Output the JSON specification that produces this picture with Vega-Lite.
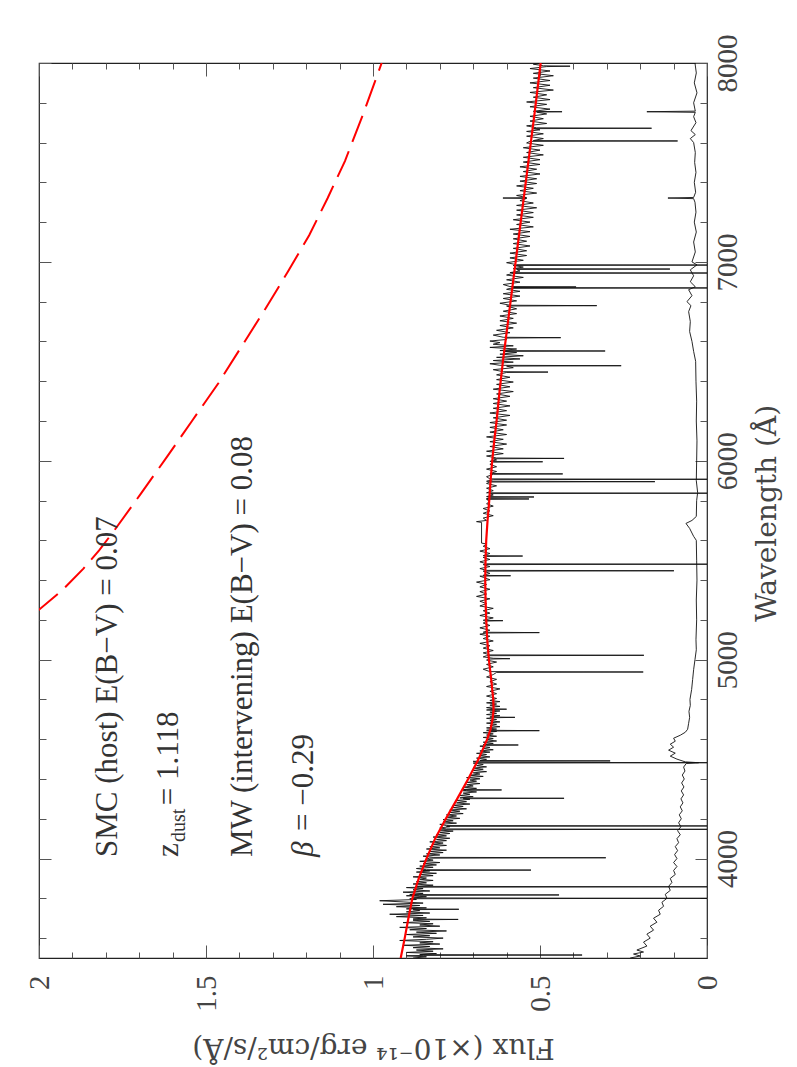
{
"$schema": "https://vega.github.io/schema/vega-lite/v6.json",
"width": 668, "height": 895,
"autosize": "none",
"padding": {"left": 39, "top": 63, "right": 90, "bottom": 109},
"background": "white",
"config": {"view": {"stroke": "#222", "strokeWidth": 1.2}, "axis": {"domain": false, "grid": false, "labelFont": "Liberation Serif", "titleFont": "DejaVu Serif", "tickColor": "#555", "labelColor": "#444", "titleColor": "#444", "titleFontWeight": "normal", "tickWidth": 1}},
"resolve": {"axis": {"x": "independent", "y": "independent"}},
"datasets": {
"spec": [
{"w":3500,"f":0.88},{"w":3506,"f":0.84},{"w":3511,"f":0.9},{"w":3513,"f":0.85},{"w":3515,"f":0.374},{"w":3517,"f":0.86},{"w":3522,"f":0.81},{"w":3528,"f":0.9},{"w":3534,"f":0.82},{"w":3540,"f":0.87},{"w":3546,"f":0.79},{"w":3552,"f":0.88},{"w":3558,"f":0.83},{"w":3564,"f":0.91},{"w":3570,"f":0.8},{"w":3576,"f":0.86},{"w":3582,"f":0.82},{"w":3588,"f":0.92},{"w":3594,"f":0.84},{"w":3600,"f":0.79},{"w":3606,"f":0.88},{"w":3612,"f":0.83},{"w":3618,"f":0.9},{"w":3624,"f":0.81},{"w":3630,"f":0.87},{"w":3636,"f":0.78},{"w":3642,"f":0.89},{"w":3648,"f":0.84},{"w":3654,"f":0.92},{"w":3660,"f":0.8},{"w":3666,"f":0.86},{"w":3672,"f":0.82},{"w":3678,"f":0.91},{"w":3684,"f":0.83},{"w":3690,"f":0.88},{"w":3692,"f":0.87},{"w":3694,"f":0.745},{"w":3696,"f":0.88},{"w":3702,"f":0.84},{"w":3708,"f":0.93},{"w":3714,"f":0.85},{"w":3720,"f":0.95},{"w":3726,"f":0.83},{"w":3732,"f":0.9},{"w":3738,"f":0.86},{"w":3743,"f":0.88},{"w":3745,"f":0.743},{"w":3747,"f":0.9},{"w":3752,"f":0.84},{"w":3758,"f":0.93},{"w":3764,"f":0.86},{"w":3770,"f":0.97},{"w":3776,"f":0.85},{"w":3782,"f":0.91},{"w":3788,"f":0.98},{"w":3794,"f":0.87},{"w":3798,"f":0.89},{"w":3800,"f":0.0},{"w":3802,"f":0.88},{"w":3808,"f":0.84},{"w":3813,"f":0.9},{"w":3815,"f":0.86},{"w":3817,"f":0.443},{"w":3819,"f":0.89},{"w":3825,"f":0.85},{"w":3831,"f":0.91},{"w":3837,"f":0.83},{"w":3843,"f":0.88},{"w":3849,"f":0.85},{"w":3854,"f":0.9},{"w":3856,"f":0.86},{"w":3858,"f":0.0},{"w":3860,"f":0.87},{"w":3866,"f":0.82},{"w":3872,"f":0.88},{"w":3878,"f":0.84},{"w":3884,"f":0.87},{"w":3890,"f":0.82},{"w":3896,"f":0.86},{"w":3902,"f":0.84},{"w":3908,"f":0.88},{"w":3914,"f":0.82},{"w":3920,"f":0.86},{"w":3926,"f":0.81},{"w":3932,"f":0.87},{"w":3938,"f":0.83},{"w":3940,"f":0.85},{"w":3942,"f":0.527},{"w":3944,"f":0.84},{"w":3950,"f":0.87},{"w":3956,"f":0.82},{"w":3962,"f":0.86},{"w":3968,"f":0.81},{"w":3974,"f":0.85},{"w":3980,"f":0.8},{"w":3986,"f":0.86},{"w":3992,"f":0.82},{"w":3998,"f":0.84},{"w":4002,"f":0.83},{"w":4004,"f":0.303},{"w":4006,"f":0.82},{"w":4012,"f":0.85},{"w":4018,"f":0.8},{"w":4024,"f":0.84},{"w":4030,"f":0.79},{"w":4036,"f":0.83},{"w":4042,"f":0.78},{"w":4048,"f":0.84},{"w":4054,"f":0.8},{"w":4060,"f":0.83},{"w":4066,"f":0.78},{"w":4072,"f":0.82},{"w":4078,"f":0.79},{"w":4084,"f":0.83},{"w":4090,"f":0.78},{"w":4096,"f":0.81},{"w":4102,"f":0.77},{"w":4108,"f":0.82},{"w":4114,"f":0.78},{"w":4120,"f":0.81},{"w":4126,"f":0.77},{"w":4132,"f":0.8},{"w":4138,"f":0.76},{"w":4143,"f":0.8},{"w":4145,"f":0.79},{"w":4147,"f":0.0},{"w":4149,"f":0.78},{"w":4154,"f":0.8},{"w":4160,"f":0.77},{"w":4162,"f":0.78},{"w":4164,"f":0.0},{"w":4166,"f":0.78},{"w":4172,"f":0.8},{"w":4178,"f":0.75},{"w":4184,"f":0.79},{"w":4190,"f":0.76},{"w":4196,"f":0.79},{"w":4202,"f":0.74},{"w":4208,"f":0.78},{"w":4214,"f":0.75},{"w":4220,"f":0.78},{"w":4226,"f":0.73},{"w":4232,"f":0.77},{"w":4238,"f":0.74},{"w":4244,"f":0.77},{"w":4250,"f":0.72},{"w":4256,"f":0.76},{"w":4262,"f":0.73},{"w":4268,"f":0.76},{"w":4274,"f":0.71},{"w":4280,"f":0.75},{"w":4286,"f":0.72},{"w":4292,"f":0.75},{"w":4298,"f":0.71},{"w":4301,"f":0.73},{"w":4303,"f":0.428},{"w":4305,"f":0.74},{"w":4311,"f":0.7},{"w":4317,"f":0.74},{"w":4323,"f":0.71},{"w":4329,"f":0.73},{"w":4335,"f":0.69},{"w":4341,"f":0.73},{"w":4343,"f":0.72},{"w":4345,"f":0.615},{"w":4347,"f":0.73},{"w":4353,"f":0.69},{"w":4359,"f":0.73},{"w":4365,"f":0.7},{"w":4371,"f":0.72},{"w":4377,"f":0.68},{"w":4383,"f":0.72},{"w":4389,"f":0.69},{"w":4395,"f":0.71},{"w":4401,"f":0.68},{"w":4407,"f":0.72},{"w":4413,"f":0.67},{"w":4419,"f":0.71},{"w":4425,"f":0.68},{"w":4431,"f":0.7},{"w":4437,"f":0.66},{"w":4443,"f":0.7},{"w":4449,"f":0.67},{"w":4455,"f":0.7},{"w":4461,"f":0.66},{"w":4467,"f":0.69},{"w":4473,"f":0.67},{"w":4478,"f":0.69},{"w":4480,"f":0.7},{"w":4482,"f":0.0},{"w":4484,"f":0.69},{"w":4489,"f":0.7},{"w":4491,"f":0.29},{"w":4493,"f":0.68},{"w":4499,"f":0.66},{"w":4505,"f":0.69},{"w":4511,"f":0.65},{"w":4517,"f":0.68},{"w":4523,"f":0.66},{"w":4529,"f":0.69},{"w":4535,"f":0.65},{"w":4541,"f":0.68},{"w":4547,"f":0.64},{"w":4553,"f":0.67},{"w":4559,"f":0.65},{"w":4565,"f":0.68},{"w":4569,"f":0.66},{"w":4571,"f":0.565},{"w":4573,"f":0.67},{"w":4579,"f":0.64},{"w":4585,"f":0.67},{"w":4591,"f":0.63},{"w":4597,"f":0.66},{"w":4603,"f":0.64},{"w":4609,"f":0.67},{"w":4615,"f":0.63},{"w":4621,"f":0.66},{"w":4627,"f":0.64},{"w":4633,"f":0.67},{"w":4639,"f":0.63},{"w":4641,"f":0.65},{"w":4643,"f":0.502},{"w":4645,"f":0.66},{"w":4651,"f":0.63},{"w":4657,"f":0.66},{"w":4663,"f":0.62},{"w":4669,"f":0.65},{"w":4675,"f":0.63},{"w":4681,"f":0.66},{"w":4687,"f":0.62},{"w":4693,"f":0.65},{"w":4699,"f":0.63},{"w":4705,"f":0.66},{"w":4708,"f":0.64},{"w":4710,"f":0.575},{"w":4712,"f":0.65},{"w":4718,"f":0.62},{"w":4724,"f":0.66},{"w":4730,"f":0.63},{"w":4736,"f":0.65},{"w":4742,"f":0.62},{"w":4747,"f":0.66},{"w":4749,"f":0.65},{"w":4751,"f":0.6},{"w":4753,"f":0.64},{"w":4759,"f":0.66},{"w":4765,"f":0.62},{"w":4771,"f":0.65},{"w":4777,"f":0.63},{"w":4783,"f":0.66},{"w":4789,"f":0.62},{"w":4795,"f":0.65},
{"w":4805,"f":0.63},{"w":4817,"f":0.66},{"w":4829,"f":0.63},{"w":4841,"f":0.65},{"w":4853,"f":0.62},{"w":4865,"f":0.66},{"w":4877,"f":0.63},{"w":4889,"f":0.65},{"w":4901,"f":0.63},{"w":4913,"f":0.66},{"w":4925,"f":0.64},{"w":4936,"f":0.63},{"w":4938,"f":0.191},{"w":4940,"f":0.65},{"w":4952,"f":0.67},{"w":4964,"f":0.64},{"w":4976,"f":0.66},{"w":4988,"f":0.63},{"w":4998,"f":0.66},{"w":5003,"f":0.65},{"w":5005,"f":0.59},{"w":5007,"f":0.64},{"w":5014,"f":0.67},{"w":5020,"f":0.66},{"w":5022,"f":0.189},{"w":5024,"f":0.65},{"w":5034,"f":0.67},{"w":5046,"f":0.64},{"w":5058,"f":0.67},{"w":5070,"f":0.65},{"w":5082,"f":0.68},{"w":5094,"f":0.64},{"w":5106,"f":0.67},{"w":5118,"f":0.65},{"w":5128,"f":0.68},{"w":5134,"f":0.66},{"w":5136,"f":0.502},{"w":5138,"f":0.67},{"w":5148,"f":0.65},{"w":5160,"f":0.68},{"w":5172,"f":0.65},{"w":5184,"f":0.67},{"w":5194,"f":0.66},{"w":5196,"f":0.611},{"w":5198,"f":0.67},{"w":5210,"f":0.64},{"w":5222,"f":0.68},{"w":5234,"f":0.65},{"w":5246,"f":0.67},{"w":5258,"f":0.64},{"w":5270,"f":0.68},{"w":5282,"f":0.66},{"w":5294,"f":0.68},{"w":5306,"f":0.65},{"w":5318,"f":0.69},{"w":5330,"f":0.66},{"w":5342,"f":0.68},{"w":5354,"f":0.65},{"w":5366,"f":0.68},{"w":5378,"f":0.66},{"w":5390,"f":0.69},{"w":5402,"f":0.65},{"w":5414,"f":0.67},{"w":5420,"f":0.68},{"w":5422,"f":0.588},{"w":5424,"f":0.67},{"w":5434,"f":0.65},{"w":5445,"f":0.67},{"w":5447,"f":0.099},{"w":5449,"f":0.66},{"w":5458,"f":0.68},{"w":5468,"f":0.65},{"w":5478,"f":0.67},{"w":5480,"f":0.0},{"w":5482,"f":0.66},{"w":5492,"f":0.68},{"w":5504,"f":0.65},{"w":5514,"f":0.67},{"w":5519,"f":0.66},{"w":5521,"f":0.552},{"w":5523,"f":0.67},{"w":5534,"f":0.65},{"w":5546,"f":0.68},{"w":5558,"f":0.65},{"w":5570,"f":0.67},{"w":5582,"f":0.66},{"w":5586,"f":0.675},{"w":5690,"f":0.675},{"w":5694,"f":0.69},{"w":5700,"f":0.66},{"w":5712,"f":0.67},{"w":5724,"f":0.64},{"w":5736,"f":0.67},{"w":5748,"f":0.65},{"w":5760,"f":0.67},{"w":5772,"f":0.64},{"w":5784,"f":0.66},{"w":5796,"f":0.65},{"w":5806,"f":0.66},{"w":5808,"f":0.533},{"w":5810,"f":0.66},{"w":5816,"f":0.65},{"w":5818,"f":0.518},{"w":5820,"f":0.66},{"w":5828,"f":0.64},{"w":5835,"f":0.65},{"w":5837,"f":0.0},{"w":5839,"f":0.66},{"w":5850,"f":0.64},{"w":5862,"f":0.66},{"w":5874,"f":0.63},{"w":5886,"f":0.66},{"w":5893,"f":0.65},{"w":5895,"f":0.156},{"w":5897,"f":0.66},{"w":5905,"f":0.64},{"w":5907,"f":0.0},{"w":5909,"f":0.65},{"w":5920,"f":0.66},{"w":5932,"f":0.64},{"w":5934,"f":0.432},{"w":5936,"f":0.65},{"w":5946,"f":0.63},{"w":5958,"f":0.66},{"w":5970,"f":0.63},{"w":5982,"f":0.65},{"w":5993,"f":0.64},{"w":5995,"f":0.492},{"w":5997,"f":0.65},{"w":6004,"f":0.63},{"w":6010,"f":0.64},{"w":6012,"f":0.428},{"w":6014,"f":0.63},{"w":6024,"f":0.66},{"w":6036,"f":0.61},{"w":6048,"f":0.66},{"w":6060,"f":0.61},{"w":6072,"f":0.65},{"w":6084,"f":0.6},{"w":6096,"f":0.65},{"w":6108,"f":0.61},{"w":6120,"f":0.66},{"w":6132,"f":0.6},{"w":6144,"f":0.65},{"w":6156,"f":0.61},{"w":6168,"f":0.65},{"w":6180,"f":0.6},{"w":6192,"f":0.65},{"w":6204,"f":0.6},{"w":6216,"f":0.64},{"w":6228,"f":0.59},{"w":6240,"f":0.65},{"w":6252,"f":0.6},{"w":6264,"f":0.64},{"w":6276,"f":0.59},{"w":6288,"f":0.64},{"w":6300,"f":0.6},{"w":6312,"f":0.64},{"w":6324,"f":0.59},{"w":6336,"f":0.63},{"w":6348,"f":0.58},{"w":6360,"f":0.64},{"w":6372,"f":0.59},{"w":6384,"f":0.63},{"w":6396,"f":0.58},{"w":6408,"f":0.63},{"w":6420,"f":0.59},{"w":6432,"f":0.63},{"w":6444,"f":0.6},{"w":6446,"f":0.476},{"w":6448,"f":0.61},{"w":6458,"f":0.64},{"w":6468,"f":0.58},{"w":6476,"f":0.6},{"w":6478,"f":0.257},{"w":6480,"f":0.62},{"w":6488,"f":0.65},{"w":6496,"f":0.58},{"w":6504,"f":0.64},{"w":6512,"f":0.56},{"w":6520,"f":0.63},{"w":6528,"f":0.55},{"w":6536,"f":0.62},{"w":6544,"f":0.57},{"w":6550,"f":0.61},{"w":6552,"f":0.305},{"w":6554,"f":0.62},{"w":6562,"f":0.57},{"w":6570,"f":0.65},{"w":6578,"f":0.58},{"w":6586,"f":0.64},{"w":6594,"f":0.62},{"w":6602,"f":0.65},{"w":6610,"f":0.6},{"w":6617,"f":0.6},{"w":6619,"f":0.438},{"w":6621,"f":0.61},{"w":6632,"f":0.64},{"w":6644,"f":0.59},{"w":6656,"f":0.63},{"w":6668,"f":0.58},{"w":6680,"f":0.62},{"w":6692,"f":0.57},{"w":6704,"f":0.62},{"w":6716,"f":0.58},{"w":6728,"f":0.62},{"w":6740,"f":0.57},{"w":6752,"f":0.61},{"w":6764,"f":0.57},{"w":6778,"f":0.6},{"w":6780,"f":0.33},{"w":6782,"f":0.59},{"w":6792,"f":0.62},{"w":6804,"f":0.57},{"w":6816,"f":0.61},{"w":6828,"f":0.56},{"w":6840,"f":0.61},{"w":6852,"f":0.56},{"w":6862,"f":0.6},{"w":6867,"f":0.59},{"w":6869,"f":0.0},{"w":6871,"f":0.58},{"w":6872,"f":0.58},{"w":6874,"f":0.392},{"w":6876,"f":0.59},{"w":6886,"f":0.61},{"w":6898,"f":0.56},{"w":6910,"f":0.6},{"w":6922,"f":0.55},{"w":6934,"f":0.6},{"w":6942,"f":0.58},{"w":6944,"f":0.0},{"w":6946,"f":0.59},{"w":6954,"f":0.56},{"w":6962,"f":0.57},{"w":6964,"f":0.111},{"w":6966,"f":0.58},{"w":6974,"f":0.55},{"w":6982,"f":0.58},{"w":6984,"f":0.0},{"w":6986,"f":0.57},{"w":6996,"f":0.6},{"w":7008,"f":0.55},{"w":7020,"f":0.59},{"w":7032,"f":0.54},{"w":7044,"f":0.59},{"w":7056,"f":0.54},{"w":7068,"f":0.58},{"w":7080,"f":0.53},{"w":7092,"f":0.58},{"w":7104,"f":0.54},{"w":7116,"f":0.58},{"w":7128,"f":0.53},{"w":7140,"f":0.58},{"w":7152,"f":0.53},{"w":7164,"f":0.59},{"w":7176,"f":0.52},{"w":7188,"f":0.57},{"w":7200,"f":0.53},{"w":7212,"f":0.58},{"w":7224,"f":0.52},{"w":7236,"f":0.57},{"w":7248,"f":0.52},{"w":7260,"f":0.57},{"w":7272,"f":0.51},{"w":7284,"f":0.57},{"w":7296,"f":0.52},{"w":7308,"f":0.56},{"w":7319,"f":0.54},{"w":7321,"f":0.611},{"w":7323,"f":0.54},{"w":7334,"f":0.57},{"w":7346,"f":0.51},{"w":7358,"f":0.56},{"w":7370,"f":0.52},{"w":7382,"f":0.57},{"w":7394,"f":0.51},{"w":7406,"f":0.56},{"w":7418,"f":0.51},{"w":7430,"f":0.56},{"w":7442,"f":0.5},{"w":7454,"f":0.55},{"w":7466,"f":0.51},{"w":7478,"f":0.56},{"w":7490,"f":0.5},{"w":7502,"f":0.55},{"w":7514,"f":0.5},{"w":7526,"f":0.55},{"w":7538,"f":0.49},{"w":7550,"f":0.54},{"w":7562,"f":0.5},{"w":7574,"f":0.55},{"w":7586,"f":0.49},{"w":7598,"f":0.54},{"w":7606,"f":0.53},{"w":7608,"f":0.088},{"w":7610,"f":0.52},{"w":7620,"f":0.49},{"w":7632,"f":0.54},{"w":7644,"f":0.49},{"w":7656,"f":0.54},{"w":7664,"f":0.5},{"w":7670,"f":0.52},{"w":7672,"f":0.166},{"w":7674,"f":0.51},{"w":7684,"f":0.54},{"w":7696,"f":0.48},{"w":7708,"f":0.53},{"w":7720,"f":0.49},{"w":7732,"f":0.53},{"w":7744,"f":0.48},{"w":7753,"f":0.51},{"w":7755,"f":0.434},{"w":7757,"f":0.52},{"w":7768,"f":0.47},{"w":7780,"f":0.53},{"w":7792,"f":0.48},{"w":7804,"f":0.54},{"w":7816,"f":0.47},{"w":7828,"f":0.52},{"w":7840,"f":0.48},{"w":7852,"f":0.53},{"w":7864,"f":0.46},{"w":7876,"f":0.52},{"w":7888,"f":0.47},{"w":7900,"f":0.53},{"w":7912,"f":0.47},{"w":7924,"f":0.52},{"w":7936,"f":0.46},{"w":7948,"f":0.52},{"w":7960,"f":0.47},{"w":7972,"f":0.53},{"w":7982,"f":0.48},{"w":7984,"f":0.41},{"w":7986,"f":0.49},{"w":7994,"f":0.52},{"w":8000,"f":0.49}
],
"err": [
{"w":3500,"f":0.23},{"w":3510,"f":0.2},{"w":3520,"f":0.22},{"w":3530,"f":0.19},{"w":3540,"f":0.21},{"w":3560,"f":0.18},{"w":3580,"f":0.19},{"w":3600,"f":0.17},{"w":3620,"f":0.18},{"w":3640,"f":0.16},{"w":3660,"f":0.17},{"w":3680,"f":0.15},{"w":3700,"f":0.16},{"w":3720,"f":0.14},{"w":3740,"f":0.145},{"w":3760,"f":0.13},{"w":3780,"f":0.135},{"w":3800,"f":0.12},{"w":3820,"f":0.125},{"w":3840,"f":0.11},{"w":3860,"f":0.115},{"w":3880,"f":0.105},{"w":3900,"f":0.11},{"w":3920,"f":0.095},{"w":3940,"f":0.1},{"w":3960,"f":0.09},{"w":3980,"f":0.1},{"w":4000,"f":0.09},{"w":4020,"f":0.097},{"w":4040,"f":0.088},{"w":4060,"f":0.095},{"w":4080,"f":0.085},{"w":4100,"f":0.09},{"w":4120,"f":0.08},{"w":4140,"f":0.088},{"w":4160,"f":0.078},{"w":4180,"f":0.085},{"w":4200,"f":0.077},{"w":4220,"f":0.083},{"w":4240,"f":0.074},{"w":4260,"f":0.08},{"w":4280,"f":0.072},{"w":4300,"f":0.078},{"w":4320,"f":0.07},{"w":4340,"f":0.077},{"w":4360,"f":0.069},{"w":4380,"f":0.076},{"w":4400,"f":0.068},{"w":4420,"f":0.074},{"w":4440,"f":0.066},{"w":4460,"f":0.07},{"w":4478,"f":0.062},{"w":4482,"f":0.025},{"w":4486,"f":0.065},{"w":4500,"f":0.09},{"w":4515,"f":0.11},{"w":4530,"f":0.095},{"w":4545,"f":0.115},{"w":4560,"f":0.1},{"w":4575,"f":0.11},{"w":4590,"f":0.095},{"w":4605,"f":0.1},{"w":4620,"f":0.08},{"w":4635,"f":0.065},{"w":4650,"f":0.058},{"w":4680,"f":0.055},{"w":4710,"f":0.052},{"w":4740,"f":0.054},{"w":4770,"f":0.05},{"w":4800,"f":0.051},{"w":4850,"f":0.046},{"w":4900,"f":0.043},{"w":4950,"f":0.04},{"w":5000,"f":0.036},{"w":5050,"f":0.032},{"w":5100,"f":0.033},{"w":5200,"f":0.031},{"w":5300,"f":0.032},{"w":5400,"f":0.03},{"w":5500,"f":0.031},{"w":5600,"f":0.032},{"w":5620,"f":0.04},{"w":5660,"f":0.052},{"w":5685,"f":0.063},{"w":5700,"f":0.045},{"w":5720,"f":0.032},{"w":5800,"f":0.031},{"w":5840,"f":0.028},{"w":5900,"f":0.032},{"w":6000,"f":0.031},{"w":6100,"f":0.03},{"w":6200,"f":0.032},{"w":6300,"f":0.031},{"w":6400,"f":0.033},{"w":6500,"f":0.034},{"w":6550,"f":0.04},{"w":6600,"f":0.045},{"w":6650,"f":0.052},{"w":6700,"f":0.05},{"w":6750,"f":0.055},{"w":6780,"f":0.048},{"w":6800,"f":0.06},{"w":6830,"f":0.045},{"w":6860,"f":0.055},{"w":6875,"f":0.035},{"w":6900,"f":0.05},{"w":6930,"f":0.04},{"w":6960,"f":0.05},{"w":6985,"f":0.03},{"w":7000,"f":0.045},{"w":7050,"f":0.035},{"w":7100,"f":0.04},{"w":7150,"f":0.032},{"w":7200,"f":0.038},{"w":7250,"f":0.033},{"w":7300,"f":0.036},{"w":7318,"f":0.04},{"w":7321,"f":0.117},{"w":7324,"f":0.04},{"w":7350,"f":0.034},{"w":7400,"f":0.038},{"w":7450,"f":0.033},{"w":7500,"f":0.037},{"w":7550,"f":0.035},{"w":7600,"f":0.04},{"w":7620,"f":0.05},{"w":7640,"f":0.035},{"w":7660,"f":0.048},{"w":7700,"f":0.033},{"w":7730,"f":0.04},{"w":7752,"f":0.035},{"w":7755,"f":0.18},{"w":7758,"f":0.035},{"w":7800,"f":0.04},{"w":7850,"f":0.03},{"w":7900,"f":0.038},{"w":7950,"f":0.032},{"w":8000,"f":0.036}
],
"fit": [
{"w":3500,"f":0.917},{"w":3600,"f":0.905},{"w":3700,"f":0.894},{"w":3800,"f":0.882},{"w":3900,"f":0.863},{"w":4000,"f":0.84},{"w":4100,"f":0.814},{"w":4200,"f":0.782},{"w":4300,"f":0.748},{"w":4400,"f":0.715},{"w":4500,"f":0.684},{"w":4600,"f":0.658},{"w":4650,"f":0.648},{"w":4700,"f":0.642},{"w":4750,"f":0.639},{"w":4800,"f":0.64},{"w":4900,"f":0.646},{"w":5000,"f":0.653},{"w":5100,"f":0.658},{"w":5200,"f":0.661},{"w":5300,"f":0.663},{"w":5400,"f":0.664},{"w":5500,"f":0.663},{"w":5600,"f":0.661},{"w":5700,"f":0.657},{"w":5800,"f":0.652},{"w":5900,"f":0.648},{"w":6000,"f":0.643},{"w":6100,"f":0.637},{"w":6200,"f":0.63},{"w":6350,"f":0.621},{"w":6500,"f":0.611},{"w":6750,"f":0.592},{"w":7000,"f":0.573},{"w":7250,"f":0.554},{"w":7500,"f":0.535},{"w":7750,"f":0.516},{"w":8000,"f":0.498}
],
"dash": [
{"w":5240,"f":2.008},{"w":5350,"f":1.93},{"w":5458,"f":1.867},{"w":5550,"f":1.82},{"w":5644,"f":1.777},{"w":5830,"f":1.697},{"w":6017,"f":1.618},{"w":6200,"f":1.542},{"w":6390,"f":1.463},{"w":6576,"f":1.393},{"w":6762,"f":1.323},{"w":6950,"f":1.255},{"w":7134,"f":1.191},{"w":7320,"f":1.136},{"w":7507,"f":1.084},{"w":7750,"f":1.028},{"w":8000,"f":0.974}
],
"notes": [
{"w":4008,"f":1.766,"t":"SMC (host) E(B−V) = 0.07"},
{"w":4008,"f":1.583,"t":"z"},
{"w":4268,"f":1.583,"t":"=  1.118"},
{"w":4008,"f":1.363,"t":"MW (intervening) E(B−V) = 0.08"},
{"w":4139,"f":1.179,"t":"= −0.29"}
],
"sub": [{"w":4083,"f":1.563,"t":"dust"}],
"greek": [{"w":4008,"f":1.179,"t":"β"}]
},
"layer": [
{
"data": {"name": "spec"},
"mark": {"type": "line", "color": "#111", "strokeWidth": 0.9, "clip": true},
"encoding": {
"x": {"field": "f", "type": "quantitative", "scale": {"domain": [0, 2], "reverse": true, "nice": false, "zero": false},
"axis": {"orient": "bottom", "values": [0, 0.5, 1, 1.5, 2], "format": "~g", "tickSize": -13, "labelAngle": 270, "labelAlign": "right", "labelBaseline": "middle", "labelPadding": 30, "labelFontSize": 29, "labelFlush": false, "labelOverlap": false, "title": "Flux  (×10⁻¹⁴  erg/cm²/s/Å)", "titleAngle": 180, "titleX": 334, "titleY": 80, "titleAlign": "center", "titleBaseline": "alphabetic", "titleFontSize": 28}},
"y": {"field": "w", "type": "quantitative", "scale": {"domain": [3500, 8000], "nice": false, "zero": false},
"axis": {"orient": "right", "values": [4000, 5000, 6000, 7000, 8000], "format": "d", "tickSize": -12, "labelAngle": 270, "labelAlign": "center", "labelBaseline": "top", "labelPadding": 18, "labelFontSize": 29, "labelFlush": false, "labelOverlap": false, "title": "Wavelength (Å)", "titleAngle": 270, "titleX": 68, "titleY": 450, "titleAlign": "center", "titleBaseline": "alphabetic", "titleFontSize": 28}},
"order": {"field": "w", "type": "quantitative"}
}
},
{
"data": {"name": "err"},
"mark": {"type": "line", "color": "#111", "strokeWidth": 0.9, "clip": true},
"encoding": {
"x": {"field": "f", "type": "quantitative", "scale": {"domain": [0, 2], "reverse": true, "nice": false, "zero": false},
"axis": {"orient": "top", "values": [0, 0.5, 1, 1.5, 2], "tickSize": -13, "labels": false, "title": null}},
"y": {"field": "w", "type": "quantitative", "scale": {"domain": [3500, 8000], "nice": false, "zero": false},
"axis": {"orient": "left", "values": [4000, 5000, 6000, 7000, 8000], "tickSize": -12, "labels": false, "title": null}},
"order": {"field": "w", "type": "quantitative"}
}
},
{
"data": {"name": "dash"},
"mark": {"type": "line", "color": "#ff0000", "strokeWidth": 2, "strokeDash": [28, 10], "clip": true},
"encoding": {
"x": {"field": "f", "type": "quantitative", "scale": {"domain": [0, 2], "reverse": true, "nice": false, "zero": false},
"axis": {"orient": "bottom", "values": [0.1, 0.2, 0.3, 0.4, 0.6, 0.7, 0.8, 0.9, 1.1, 1.2, 1.3, 1.4, 1.6, 1.7, 1.8, 1.9], "tickSize": -6, "labels": false, "title": null}},
"y": {"field": "w", "type": "quantitative", "scale": {"domain": [3500, 8000], "nice": false, "zero": false},
"axis": {"orient": "right", "values": [3600, 3800, 4200, 4400, 4600, 4800, 5200, 5400, 5600, 5800, 6200, 6400, 6600, 6800, 7200, 7400, 7600, 7800], "tickSize": -7, "labels": false, "title": null}},
"order": {"field": "w", "type": "quantitative"}
}
},
{
"data": {"name": "fit"},
"mark": {"type": "line", "color": "#ff0000", "strokeWidth": 2.2, "clip": true},
"encoding": {
"x": {"field": "f", "type": "quantitative", "scale": {"domain": [0, 2], "reverse": true, "nice": false, "zero": false},
"axis": {"orient": "top", "values": [0.1, 0.2, 0.3, 0.4, 0.6, 0.7, 0.8, 0.9, 1.1, 1.2, 1.3, 1.4, 1.6, 1.7, 1.8, 1.9], "tickSize": -6, "labels": false, "title": null}},
"y": {"field": "w", "type": "quantitative", "scale": {"domain": [3500, 8000], "nice": false, "zero": false},
"axis": {"orient": "left", "values": [3600, 3800, 4200, 4400, 4600, 4800, 5200, 5400, 5600, 5800, 6200, 6400, 6600, 6800, 7200, 7400, 7600, 7800], "tickSize": -7, "labels": false, "title": null}},
"order": {"field": "w", "type": "quantitative"}
}
},
{
"data": {"name": "notes"},
"mark": {"type": "text", "angle": 270, "align": "left", "baseline": "alphabetic", "font": "Liberation Serif", "fontSize": 31, "color": "#333"},
"encoding": {
"x": {"field": "f", "type": "quantitative", "scale": {"domain": [0, 2], "reverse": true, "nice": false, "zero": false}, "axis": null},
"y": {"field": "w", "type": "quantitative", "scale": {"domain": [3500, 8000], "nice": false, "zero": false}, "axis": null},
"text": {"field": "t"}
}
},
{
"data": {"name": "sub"},
"mark": {"type": "text", "angle": 270, "align": "left", "baseline": "alphabetic", "font": "Liberation Serif", "fontSize": 20, "color": "#333"},
"encoding": {
"x": {"field": "f", "type": "quantitative", "scale": {"domain": [0, 2], "reverse": true, "nice": false, "zero": false}, "axis": null},
"y": {"field": "w", "type": "quantitative", "scale": {"domain": [3500, 8000], "nice": false, "zero": false}, "axis": null},
"text": {"field": "t"}
}
},
{
"data": {"name": "greek"},
"mark": {"type": "text", "angle": 270, "align": "left", "baseline": "alphabetic", "font": "Liberation Serif", "fontSize": 31, "fontStyle": "italic", "color": "#333"},
"encoding": {
"x": {"field": "f", "type": "quantitative", "scale": {"domain": [0, 2], "reverse": true, "nice": false, "zero": false}, "axis": null},
"y": {"field": "w", "type": "quantitative", "scale": {"domain": [3500, 8000], "nice": false, "zero": false}, "axis": null},
"text": {"field": "t"}
}
}
]
}
